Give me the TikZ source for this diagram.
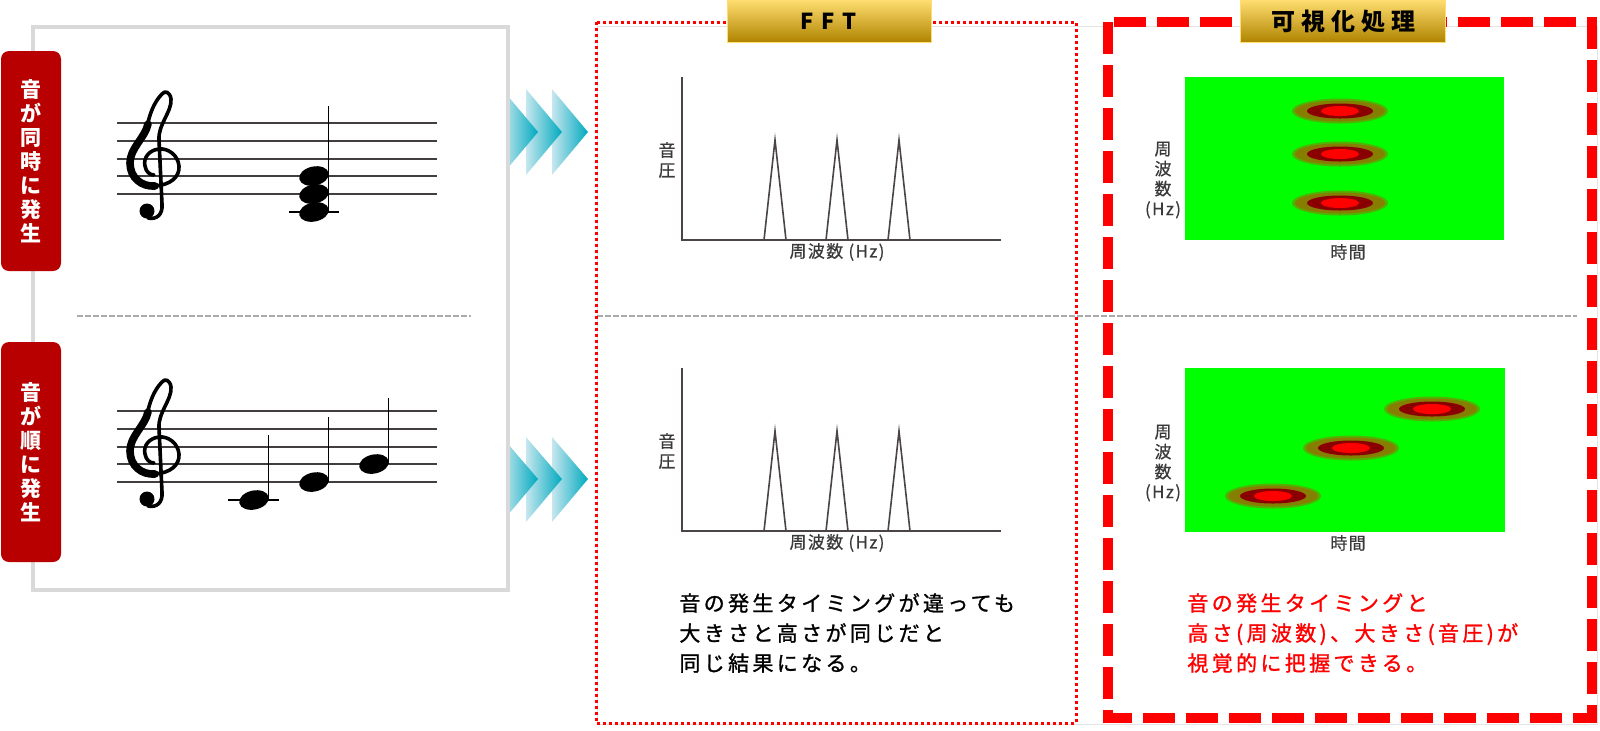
\documentclass[tikz,border=0pt]{standalone}
\usepackage{fontspec}
\setmainfont{Noto Sans CJK JP}
\usetikzlibrary{positioning, shapes.geometric, calc}

\definecolor{tabred}{HTML}{B80000}
\definecolor{framegray}{HTML}{D9D9D9}
\definecolor{sepgray}{HTML}{ABABAB}
\definecolor{staffgray}{HTML}{433E3E}
\definecolor{axisgray}{HTML}{4A4444}
\definecolor{labelgray}{HTML}{3A3A3A}
\definecolor{arrowlight}{HTML}{C6E7EF}
\definecolor{arrowteal}{HTML}{00A9BE}
\definecolor{goldtop}{HTML}{FFDD70}
\definecolor{goldmid}{HTML}{FFC20E}
\definecolor{goldbot}{HTML}{B08400}
\definecolor{plotgreen}{HTML}{00FF00}
\definecolor{spotolive}{HTML}{857E00}
\definecolor{spotdark}{HTML}{8A0000}

\tikzset{
  notehead/.pic={\fill[black, rotate=12] (0,0) ellipse [x radius=15, y radius=9.5];},
  clef/.pic={
    \fill (-8,35) circle [radius=7.5];
    \draw[line width=1.8pt, line cap=round, line join=round]
      (-7,42) .. controls (2,44) and (8,38) .. (7,28) -- (4,-36)
      .. controls (3,-52) and (17,-64) .. (16,-77)
      .. controls (15,-84) and (10,-86) .. (7,-82)
      .. controls (-1,-74) and (-6,-61) .. (-8,-48)
      .. controls (-11,-36) and (-25,-28) .. (-25,-13)
      .. controls (-25,2) and (-13,11) .. (0,10)
      .. controls (15,9) and (25,1) .. (24,-10)
      .. controls (23,-21) and (13,-28) .. (4,-27)
      .. controls (-6,-26) and (-12,-18) .. (-10,-10)
      .. controls (-9,-4) and (-5,-1) .. (-1,-1);
    \draw[line width=3.8pt, line cap=round]
      (-7,-52) .. controls (-10,-38) and (-25,-28) .. (-25,-13)
      .. controls (-25,2) and (-13,11) .. (0,10);
    \draw[line width=1.3pt] (7,28) -- (4,-36);
  },
  spot/.pic={
    \fill[spotolive!60!plotgreen] (0,0) ellipse [x radius=48, y radius=12.5];
    \fill[spotolive] (0,0) ellipse [x radius=45, y radius=10.5];
    \fill[spotdark] (0,0) ellipse [x radius=33, y radius=7.5];
    \fill[red] (0,0) ellipse [x radius=19, y radius=5];
  },
}

\begin{document}
\begin{tikzpicture}[
    x=0.5pt, y=-0.5pt,
    tabbox/.style={fill=tabred, rounded corners=4pt, minimum width=30pt, minimum height=110pt, inner sep=0pt, align=center, text=white, font=\bfseries\fontsize{10.5pt}{12pt}\selectfont},
    hdrbox/.style={top color=goldtop, middle color=goldmid, bottom color=goldbot, draw=goldtop, minimum height=21pt, inner sep=0pt},
    staffline/.style={draw=staffgray, line width=1pt},
    stemline/.style={draw=black, line width=0.8pt},
    axisline/.style={draw=axisgray, line width=1pt},
    peakline/.style={draw=axisgray, line width=0.8pt, line join=miter},
    axislabel/.style={text=labelgray, inner sep=0pt, align=center, font=\fontsize{8.5pt}{10pt}\selectfont\addfontfeatures{LetterSpace=8, FakeBold=0.6}},
    remarktext/.style={inner sep=0pt, align=left, font=\fontsize{10.5pt}{15pt}\selectfont\addfontfeatures{LetterSpace=16, FakeBold=1.2}},
    sepline/.style={draw=sepgray, line width=1pt, dash pattern=on 3pt off 1pt},
]
\useasboundingbox (0,0) rectangle (1600,730);

% Frames and separators
\draw[framegray!70, line width=0.5pt] (597,26) rectangle (1597,724);
\draw[framegray, line width=1.75pt] (33,27) rectangle (508,590);
\draw[sepline] (77,316) -- (471,316);
\draw[sepline] (597,316) -- (1577,316);

% Labels on the left
\node (tabsim) [tabbox] at (31,161) {音\\が\\同\\時\\に\\発\\生};
\node (tabseq) [tabbox] at (31,452) {音\\が\\順\\に\\発\\生};

% Staves
\foreach \ly in {0,...,4} {
  \draw[staffline] (117,{123+17.75*\ly}) -- (437,{123+17.75*\ly});
  \draw[staffline] (117,{411+17.75*\ly}) -- (437,{411+17.75*\ly});
}
\pic at (155,176) {clef};
\pic at (155,464) {clef};

% Chord
\draw[stemline] (289,212) -- (339,212);
\pic at (314,176) {notehead};
\pic at (314,194) {notehead};
\pic at (314,212) {notehead};
\draw[stemline] (328.5,106) -- (328.5,212);

% Notes one after another
\draw[stemline] (228,500) -- (279,500);
\pic at (254,500) {notehead};
\draw[stemline] (268.5,435) -- (268.5,500);
\pic at (314,482) {notehead};
\draw[stemline] (328.5,417) -- (328.5,482);
\pic at (374,464) {notehead};
\draw[stemline] (388.5,398) -- (388.5,464);

% Arrows
\begin{scope}
\clip (510,0) rectangle (600,730);
\foreach \ax in {552,526,502} {
  \shade[left color=arrowlight, middle color=arrowlight!75!arrowteal, right color=arrowteal] (\ax,89) -- (\ax+36,132) -- (\ax,175) -- cycle;
  \shade[left color=arrowlight, middle color=arrowlight!75!arrowteal, right color=arrowteal] (\ax,437) -- (\ax+36,479) -- (\ax,522) -- cycle;
}
\end{scope}

% FFT plots
\foreach \py in {0,291} {
  \draw[axisline] (682,77+\py) -- (682,240+\py) -- (1001,240+\py);
  \foreach \px in {775,837,899}
    \draw[peakline] (\px-11,240+\py) -- (\px,140+\py) -- (\px+11,240+\py);
}
\node (ylabfft1) [axislabel] at (667,160) {音\\圧};
\node (xlabfft1) [axislabel] at (837,252) {周波数 (Hz)};
\node (ylabfft2) [axislabel] at (667,451) {音\\圧};
\node (xlabfft2) [axislabel] at (837,543) {周波数 (Hz)};

% Spectrograms
\fill[plotgreen] (1185,77) rectangle (1504,240);
\fill[plotgreen] (1185,368) rectangle (1505,532);
\pic at (1340,111) {spot};
\pic at (1340,154) {spot};
\pic at (1340,203) {spot};
\pic at (1273,496) {spot};
\pic at (1351,448) {spot};
\pic at (1432,409) {spot};
\node (ylabvis1) [axislabel] at (1163,180) {周\\波\\数\\(Hz)};
\node (xlabvis1) [axislabel] at (1348,252) {時間};
\node (ylabvis2) [axislabel] at (1163,463) {周\\波\\数\\(Hz)};
\node (xlabvis2) [axislabel] at (1348,543) {時間};

% Remarks
\node (fftnote) [remarktext, anchor=west] at (679,633) {音の発生タイミングが違っても\\大きさと高さが同じだと\\同じ結果になる。};
\node (visnote) [remarktext, anchor=west, text=red] at (1187,633) {音の発生タイミングと\\高さ(周波数)、大きさ(音圧)が\\視覚的に把握できる。};

% Panel borders
\draw[red, line width=1.5pt, dash pattern=on 1.6pt off 1.4pt] (596,22) rectangle (1076,723);
\draw[red, line width=5pt, dash pattern=on 16pt off 5.5pt] (1108,22) rectangle (1592,718);

% Headers
\node (hdrfft) [hdrbox, minimum width=102pt, font=\bfseries\fontsize{11pt}{11pt}\selectfont\addfontfeatures{LetterSpace=35}] at (829,21) {FFT};
\node (hdrvis) [hdrbox, minimum width=102.5pt, font=\bfseries\fontsize{12pt}{12pt}\selectfont\addfontfeatures{LetterSpace=25}] at (1343,21) {可視化処理};

\end{tikzpicture}
\end{document}
